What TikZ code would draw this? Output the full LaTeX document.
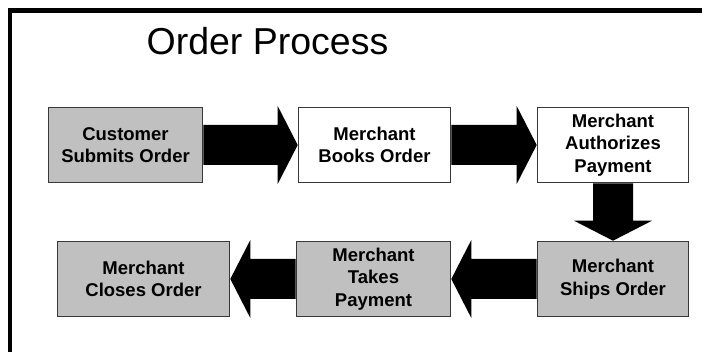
\documentclass[tikz,border=0pt]{standalone}
\usepackage{fontspec}
\setmainfont{Liberation Sans}
\usetikzlibrary{calc}
\definecolor{boxgray}{RGB}{192,192,192}
\definecolor{edgegray}{RGB}{56,56,56}

% Block arrow from one anchor to another: shaft half-width 20pt,
% head half-width 39pt, head length 20pt, tip on the target anchor.
\newcommand\blockarrow[2]{%
  \path (#1) coordinate (ba-s) (#2) coordinate (ba-t)
        ($(ba-t)!20pt!(ba-s)$) coordinate (ba-h);
  \fill[arrowfill]
    ($(ba-s)!20pt!90:(ba-t)$) -- ($(ba-h)!20pt!-90:(ba-s)$) --
    ($(ba-h)!39pt!-90:(ba-s)$) -- (ba-t) --
    ($(ba-h)!39pt!90:(ba-s)$) -- ($(ba-h)!20pt!90:(ba-s)$) --
    ($(ba-s)!20pt!-90:(ba-t)$) -- cycle;
}

\begin{document}
\begin{tikzpicture}[x=1pt,y=-1pt,
  stepbox/.style={draw=edgegray, line width=1.6pt, minimum height=75pt,
    inner sep=0pt, align=center,
    font=\fontsize{18.5}{22.5}\selectfont\bfseries},
  shaded/.style={fill=boxgray},
  plain/.style={fill=white},
  arrowfill/.style={fill=black},
  frame/.style={line width=4.6pt}]
\useasboundingbox (0,0) rectangle (702,352);
\fill[white] (0,0) rectangle (702,352);

% slide frame (top and left edges)
\draw[frame] (9.9,360) -- (9.9,10.4) -- (710,10.4);

% title
\node[anchor=base, font=\fontsize{37.5}{40}\selectfont] (title) at (267.5,55) {Order Process};

% process steps
\node[stepbox, shaded, minimum width=154pt] (submit) at (125.5,145) {Customer\\Submits Order};
\node[stepbox, plain,  minimum width=152pt] (book)   at (374.5,145) {Merchant\\Books Order};
\node[stepbox, plain,  minimum width=151pt] (auth)   at (613,145)   {Merchant\\Authorizes\\Payment};
\node[stepbox, shaded, minimum width=151pt] (ship)   at (613,279)   {Merchant\\Ships Order};
\node[stepbox, shaded, minimum width=154pt] (take)   at (373.5,279) {Merchant\\Takes\\Payment};
\node[stepbox, shaded, minimum width=172pt] (close)  at (143.5,279) {Merchant\\Closes Order};

% flow arrows
\blockarrow{submit.east}{book.west}
\blockarrow{book.east}{auth.west}
\blockarrow{auth.south}{ship.north}
\blockarrow{ship.west}{take.east}
\blockarrow{take.west}{close.east}
\end{tikzpicture}
\end{document}
